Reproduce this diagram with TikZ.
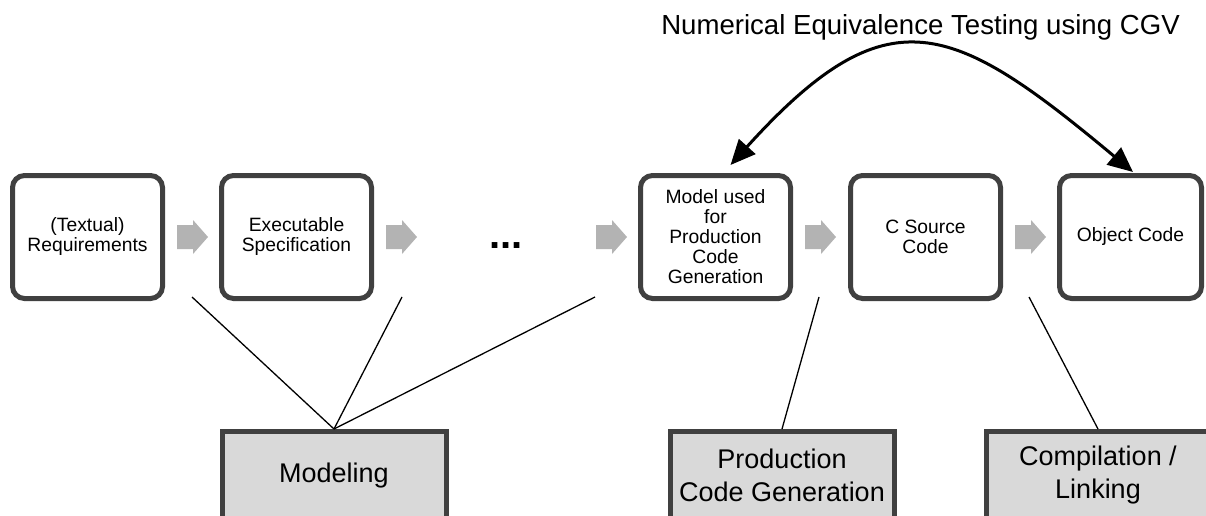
\documentclass[tikz,border=0pt]{standalone}
\usepackage{fontspec}
\setmainfont{Liberation Sans}
\usetikzlibrary{arrows.meta,positioning}
\definecolor{boxline}{HTML}{404040}
\definecolor{flowgray}{HTML}{B3B3B3}
\definecolor{phasefill}{HTML}{D9D9D9}

\begin{document}
\begin{tikzpicture}[x=1pt,y=-1pt,>={Triangle[length=25pt,width=22pt]},
    artifact/.style={draw=boxline,line width=5pt,rounded corners=12pt,
      minimum width=150pt,minimum height=123pt,align=center,
      font=\fontsize{19.3}{20}\selectfont},
    phase/.style={draw=boxline,fill=phasefill,line width=5pt,
      minimum width=224pt,minimum height=88pt,align=center,
      font=\fontsize{27}{33}\selectfont},
    link/.style={line width=1.3pt},
    flow/.style={fill=flowgray}]
  \useasboundingbox (0,0) rectangle (1206,516);

  % work products
  \node[artifact] (req) at (87.5,237) {(Textual)\\Requirements};
  \node[artifact,right=54pt of req] (spec) {Executable\\Specification};
  \node[artifact,right=264pt of spec] (model) {Model used\\for\\Production\\Code\\Generation};
  \node[artifact,right=55pt of model] (csrc) {C Source\\Code};
  \node[artifact,right=54pt of csrc,minimum width=142pt] (obj) {Object Code};
  \node[font=\bfseries\fontsize{40}{40}\selectfont,anchor=base] (dots) at (506,248) {...};

  % gray block arrows
  \foreach \b in {req,spec,model,csrc}
    \fill[flow] ([xshift=12pt,yshift=12pt]\b.east) -- ++(16,0) -- ++(0,-5)
      -- ++(15,17) -- ++(-15,17) -- ++(0,-5) -- ++(-16,0) -- cycle;
  \fill[flow] ([xshift=-42pt,yshift=12pt]model.west) -- ++(16,0) -- ++(0,-5)
    -- ++(15,17) -- ++(-15,17) -- ++(0,-5) -- ++(-16,0) -- cycle;

  % phases
  \node[phase] (modeling) at (334,475.5) {Modeling};
  \node[phase] (pcg) at (782,475.5) {Production\\Code Generation};
  \node[phase] (comp) at (1098,475.5) {Compilation /\\Linking};

  \coordinate (c1) at (192,297);
  \coordinate (c2) at (402,297);
  \coordinate (c3) at (595,297);
  \coordinate (c4) at (819,297);
  \coordinate (c5) at (1029,297);
  \draw[link] (c1) -- (modeling.north);
  \draw[link] (c2) -- (modeling.north);
  \draw[link] (c3) -- (modeling.north);
  \draw[link] (c4) -- (pcg.north);
  \draw[link] (c5) -- (comp.north);

  % equivalence test
  \draw[line width=3pt,<->] ([xshift=15pt,yshift=8pt]model.north)
    .. controls (888,-9) and (952,21) .. ([xshift=2.5pt,yshift=1pt]obj.north);
  \node[font=\fontsize{27.6}{30}\selectfont,anchor=base] (cgv) at (920.5,35)
    {Numerical Equivalence Testing using CGV};
\end{tikzpicture}
\end{document}
